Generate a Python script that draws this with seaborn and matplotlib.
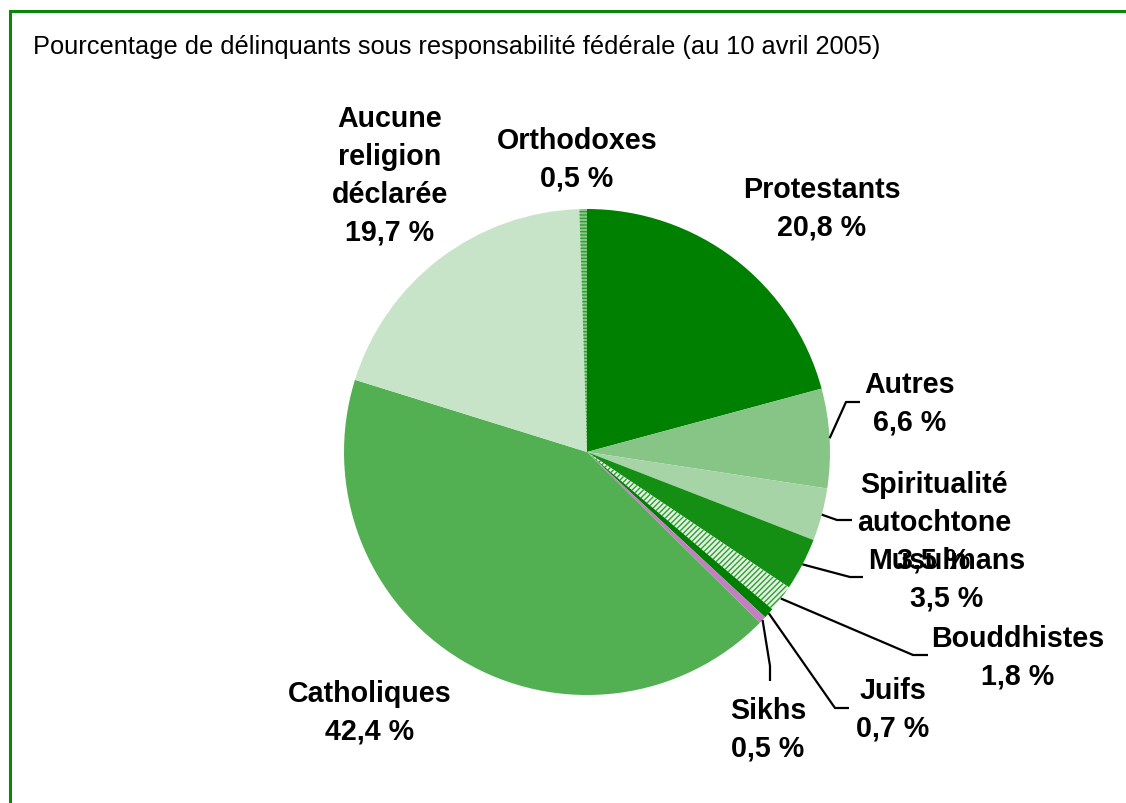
import matplotlib
matplotlib.use("Agg")
import numpy as np
import matplotlib.pyplot as plt
import seaborn as sns
from matplotlib import font_manager
from matplotlib.patches import Rectangle

# Religious affiliation of offenders under federal responsibility (10 April 2005)
categories = ["Protestants", "Autres", "Spiritualité\nautochtone", "Musulmans",
              "Bouddhistes", "Juifs", "Sikhs", "Catholiques",
              "Aucune\nreligion\ndéclarée", "Orthodoxes"]
shares = [20.8, 6.6, 3.5, 3.5, 1.8, 0.7, 0.5, 42.4, 19.7, 0.5]
title = "Pourcentage de délinquants sous responsabilité fédérale (au 10 avril 2005)"

slice_colors = ["#008000", "#86c586", "#a6d4a6", "#148f14", "#e4f2e4",
                "#008000", "#c47fc4", "#52b052", "#c8e4c8", "#8fc88f"]
slice_hatches = [None, None, None, None, "//////", None, None, None, None, "-----"]

W, H = 1126, 804
cx, cy, R = 587, 453, 243

# label centres (pixels from top-left) and leader-line elbows
label_pos = [(822, 209), (910, 404), (934, 523), (947, 580), (1018, 658),
             (893, 710), (768, 730), (370, 713), (390, 176), (577, 160)]
leaders = [None, [(846, 403), (860, 403)], [(837, 521), (852, 521)],
           [(850, 578), (863, 578)], [(913, 656), (928, 656)],
           [(835, 709), (849, 709)], [(770, 667), (770, 682)], None, None, None]

sns.set_theme(style="white")
installed = {f.name for f in font_manager.fontManager.ttflist}
plt.rcParams["font.family"] = ["Liberation Sans", "DejaVu Sans"]
plt.rcParams["hatch.linewidth"] = 1.0
narrow = next((n for n in ["Liberation Sans Narrow", "Arial Narrow"] if n in installed), None)

fig = plt.figure(figsize=(W / 100, H / 100), dpi=100)
fig.patch.set_facecolor("white")
ax = fig.add_axes([0, 0, 1, 1])

wedges, _ = ax.pie(shares, colors=slice_colors, startangle=90, counterclock=False,
                   center=(cx, H - cy), radius=R,
                   wedgeprops=dict(linewidth=0))
for w, h in zip(wedges, slice_hatches):
    if h:
        w.set_hatch(h)
        w.set_edgecolor("#2f9f2f")
        w.set_linewidth(0)

ax.set_xlim(0, W)
ax.set_ylim(0, H)
ax.set_aspect("equal")
ax.axis("off")

# cumulative mid-angles for leader lines
cum = np.cumsum([0] + shares[:-1])
for i, (name, val) in enumerate(zip(categories, shares)):
    txt = f"{name}\n{val:.1f} %".replace(".", ",")
    x, y = label_pos[i]
    ax.text(x, H - y, txt, ha="center", va="center", fontsize=20.6,
            fontweight="bold", color="black", linespacing=1.45)
    if leaders[i]:
        mid = cum[i] + val / 2
        ang = np.deg2rad(90 - mid * 3.6)
        sx, sy = cx + R * np.cos(ang), (H - cy) + R * np.sin(ang)
        pts = [(sx, sy)] + [(px, H - py) for px, py in leaders[i]]
        xs, ys = zip(*pts)
        ax.plot(xs, ys, color="black", lw=1.6, solid_capstyle="butt")

if narrow:
    fig.text(33 / W, 1 - 47 / H, title, ha="left", va="center",
             fontsize=18, family=[narrow, "DejaVu Sans"], color="black")
else:
    fig.text(33 / W, 1 - 47 / H, title, ha="left", va="center",
             fontsize=18.3, color="black")

# green frame, open to the right and bottom
fig.patches.append(Rectangle((9.5 / W, -0.1), 1.2, 1 - 11.5 / H + 0.1,
                             transform=fig.transFigure, fill=False,
                             edgecolor="#0a870a", linewidth=2.2))

fig.savefig("out.png", dpi=100)
